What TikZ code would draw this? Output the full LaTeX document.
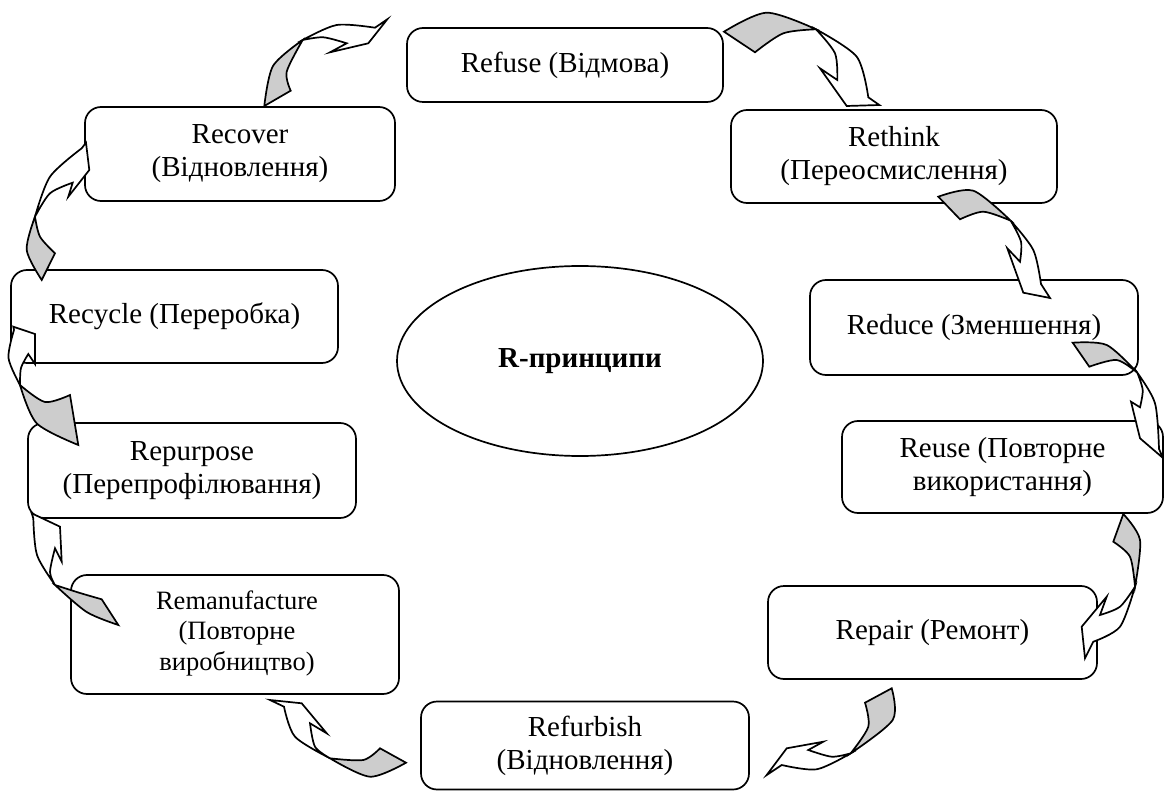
\documentclass[tikz,border=0pt]{standalone}
\usepackage{fontspec}
\setmainfont{Liberation Serif}
\usetikzlibrary{shapes.geometric}
\definecolor{ribgrey}{RGB}{205,205,205}
\tikzset{
  rbox/.style={draw, line width=1.7pt, rounded corners=16pt, align=center,
    font=\fontsize{29}{33}\selectfont, inner sep=0pt},
  btext/.style={align=center, inner sep=0pt},
  ribbonback/.style={draw, fill=ribgrey, line width=1.7pt, line join=miter},
  ribbonfront/.style={draw, fill=white, line width=1.7pt, line join=miter},
}
% twisted ribbon arrow:
% #1 tail outer, #2 mid, #3 twist point, #4 mid, #5 tail inner,
% #6 mid of outer front edge, #7 outer neck, #8 head outline, #9 inner neck + mid
\newcommand{\ribbonarrow}[9]{%
  \filldraw[ribbonback] plot[smooth] coordinates {#1 #2 #3}
    -- plot[smooth] coordinates {#3 #4 #5} -- cycle;
  \filldraw[ribbonfront] plot[smooth] coordinates {#3 #6 #7} -- #8
    -- plot[smooth] coordinates {#9 #3} -- cycle;
}
\begin{document}
\begin{tikzpicture}[x=1pt,y=-1pt]
\useasboundingbox (0,0) rectangle (1164,791);

% boxes
\node[rbox, minimum width=316pt, minimum height=74pt] (refuse) at (565,65) {Refuse (Відмова)};
\node[rbox, minimum width=326pt, minimum height=93pt] (rethink) at (894,156.5) {Rethink\\(Переосмислення)};
\node[rbox, minimum width=328pt, minimum height=95pt] (reduce) at (974,327.5) {Reduce (Зменшення)};
\node[rbox, minimum width=321pt, minimum height=92pt] (reuse) at (1002.5,467) {Reuse (Повторне\\використання)};
\node[rbox, minimum width=329pt, minimum height=93pt] (repair) at (932.5,632.5) {Repair (Ремонт)};
\node[rbox, minimum width=328pt, minimum height=88pt] (refurbish) at (585,745.5) {Refurbish\\(Відновлення)};
\node[rbox, minimum width=328pt, minimum height=119pt] (reman) at (235,634.5) {};
\node[btext, font=\fontsize{26.5}{30.5}\selectfont] (remantext) at (237,633) {Remanufacture\\(Повторне\\виробництво)};
\node[rbox, minimum width=328pt, minimum height=95pt] (repurpose) at (192,470.5) {Repurpose\\(Перепрофілювання)};
\node[rbox, minimum width=327pt, minimum height=93pt] (recycle) at (174.5,316.5) {Recycle (Переробка)};
\node[rbox, minimum width=310pt, minimum height=94pt] (recover) at (240,154) {Recover\\(Відновлення)};

% centre
\node[draw, ellipse, line width=1.7pt, minimum width=366pt, minimum height=190pt,
  font=\fontsize{29}{33}\selectfont\bfseries] (core) at (580,361) {R-принципи};

% ribbon arrows, clockwise
\ribbonarrow{(264.3,106)}{(273,66)}{(302.7,40)}{(286.7,71.7)}{(290.7,90.7)}
  {(336.7,25)}{(375,27.7)}{(387.3,19.3) -- (368.3,43.3) -- (330,52.3)}{(346.7,43.3) (323.3,37.3)}
\ribbonarrow{(724,31.7)}{(766.7,12.7)}{(816,29.3)}{(783.3,33.3)}{(755,52.3)}
  {(856.7,56.7)}{(868.3,97.3)}{(879.3,105) -- (846.7,106) -- (820,68.3)}{(837.3,80) (835,53.3)}
\ribbonarrow{(938.3,196.7)}{(973.3,190.7)}{(1010.7,220.7)}{(983.3,211.7)}{(960,219.3)}
  {(1033.3,250)}{(1041,284)}{(1050,298) -- (1023.3,292.7) -- (1007.3,248.3)}{(1020,261.7) (1021,241.7)}
\ribbonarrow{(1072.7,342.7)}{(1106.7,345)}{(1137.3,372.7)}{(1116.7,360)}{(1089.3,366.7)}
  {(1155,403.3)}{(1159,449)}{(1163,458) -- (1140,438.3) -- (1131,401.7)}{(1140,407.3) (1142.7,390)}
\ribbonarrow{(1123.3,514)}{(1140,540)}{(1135,586.7)}{(1130,556.7)}{(1113.3,541.7)}
  {(1120,626.7)}{(1093.3,641.7)}{(1085,658.3) -- (1081.7,626.7) -- (1106.7,596.7)}{(1100,615) (1120,606.7)}
\ribbonarrow{(891.7,688.3)}{(892.7,720)}{(850.7,753.3)}{(868.3,726.7)}{(865,702.7)}
  {(816.7,769.3)}{(781.7,765)}{(766.7,775) -- (786.7,748.3) -- (823.3,741.7)}{(808.3,750) (831.7,756.7)}
\ribbonarrow{(406,762.7)}{(370,776.7)}{(330,758.3)}{(363.3,760)}{(380,748.3)}
  {(295,736.7)}{(284,706.7)}{(270,700) -- (301.7,703.3) -- (326.7,733.3)}{(310,723.3) (315,746.7)}
\ribbonarrow{(118.3,625)}{(86.7,612)}{(55,585)}{(80,593)}{(101.7,599.3)}
  {(37,555)}{(33.3,518.3)}{(31.7,513.3) -- (60,526.7) -- (61.7,561.7)}{(55,548.3) (50,572)}
\ribbonarrow{(78.3,445)}{(36.7,423.3)}{(20,385)}{(45,402)}{(70,395)}
  {(8.5,358)}{(14,330)}{(13.3,326.7) -- (35,334) -- (35,364)}{(28.3,354) (21,368)}
\ribbonarrow{(41.7,280)}{(26.7,250)}{(35,216.7)}{(40,236.7)}{(55,253.3)}
  {(50,176.7)}{(81.7,148.3)}{(86,142.7) -- (89.3,170) -- (68.3,196.7)}{(72.7,182.7) (50,193.3)}
\end{tikzpicture}
\end{document}
